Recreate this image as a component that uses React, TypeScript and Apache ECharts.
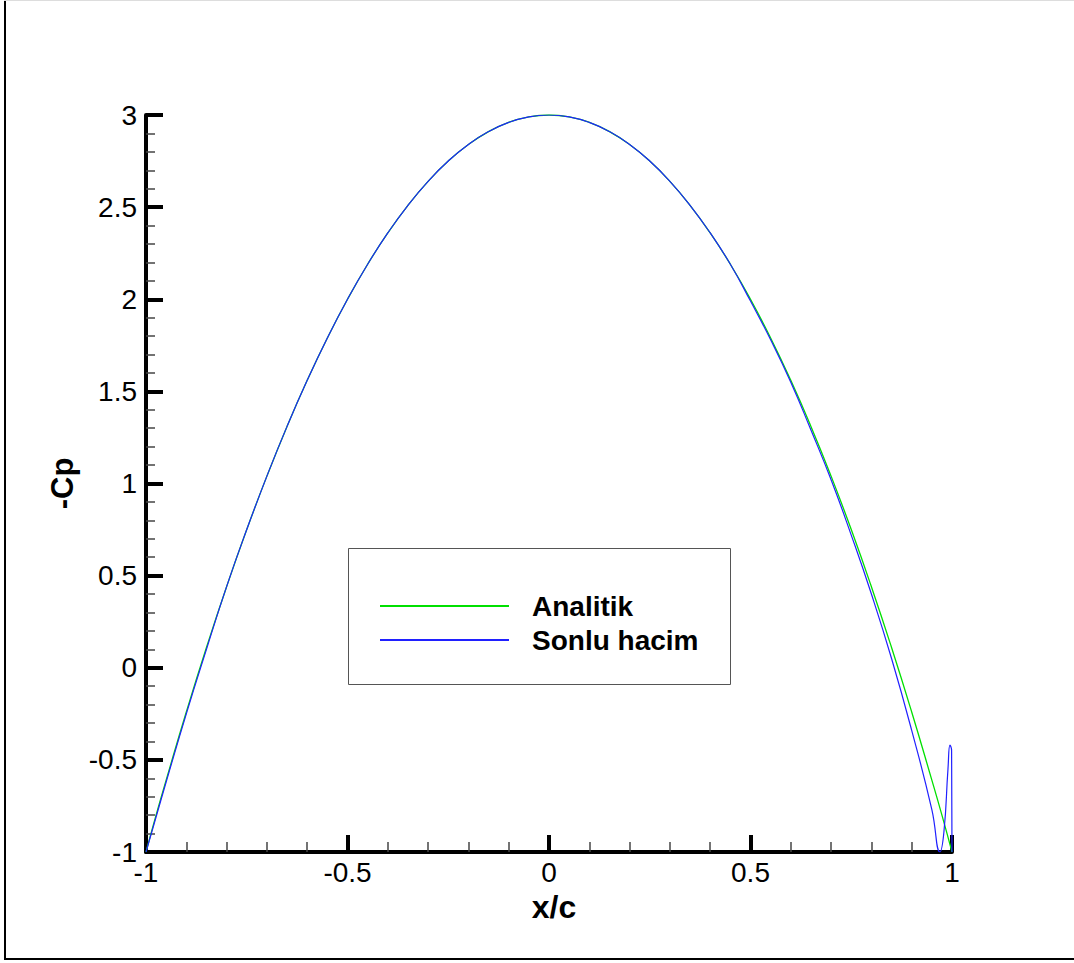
import React, { useEffect, useRef } from "react";
import * as echarts from "echarts";

const seriesNames = ["Analitik", "Sonlu hacim"];

const xAnalitik = [
  -1, -0.975, -0.95, -0.9, -0.85, -0.8, -0.75, -0.7, -0.65, -0.6, -0.55, -0.5, -0.45, -0.4, -0.35, -0.3,
  -0.25, -0.2, -0.15, -0.1, -0.05, 0, 0.05, 0.1, 0.15, 0.2, 0.25, 0.3, 0.35, 0.4, 0.45, 0.5, 0.55, 0.6,
  0.65, 0.7, 0.75, 0.8, 0.85, 0.9, 0.95, 0.975, 1,
];
const cpAnalitik = [
  -1, -0.8, -0.61, -0.24, 0.11, 0.44, 0.75, 1.04, 1.31, 1.56, 1.79, 2.0, 2.19, 2.36, 2.51, 2.64,
  2.75, 2.84, 2.91, 2.96, 2.99, 3.0, 2.99, 2.96, 2.91, 2.84, 2.75, 2.64, 2.51, 2.36, 2.19, 2.0, 1.79, 1.56,
  1.31, 1.04, 0.75, 0.44, 0.11, -0.24, -0.61, -0.8, -1,
];

const xSonlu = [
  -1, -0.975, -0.95, -0.9, -0.85, -0.8, -0.75, -0.7, -0.65, -0.6, -0.55, -0.5, -0.45, -0.4, -0.35, -0.3,
  -0.25, -0.2, -0.15, -0.1, -0.05, 0, 0.05, 0.1, 0.15, 0.2, 0.25, 0.3, 0.35, 0.4, 0.45, 0.5, 0.55, 0.6,
  0.65, 0.7, 0.75, 0.8, 0.85, 0.9, 0.95, 0.97, 0.98, 0.99, 0.995, 0.999, 1,
];
const cpSonlu = [
  -1, -0.81, -0.62, -0.25, 0.1, 0.44, 0.75, 1.04, 1.31, 1.56, 1.79, 2.0, 2.19, 2.36, 2.51, 2.64,
  2.75, 2.84, 2.91, 2.96, 2.99, 3.0, 2.99, 2.96, 2.91, 2.84, 2.75, 2.64, 2.51, 2.36, 2.19, 1.99, 1.78, 1.55,
  1.29, 1.02, 0.72, 0.4, 0.05, -0.34, -0.77, -1.0, -0.89, -0.55, -0.42, -0.45, -1.0,
];

const xAxisTitle = "x/c";
const yAxisTitle = "-Cp";

function pairs(xs: number[], ys: number[]) {
  return xs.map((x, i) => [x, ys[i]]);
}

export default function App() {
  const ref = useRef<HTMLDivElement>(null);
  useEffect(() => {
    if (!ref.current) return;
    const chart = echarts.init(ref.current, undefined, { renderer: "svg" });
    const labelFont = { fontFamily: "Liberation Sans, Arial, sans-serif", fontSize: 28, color: "#000" };
    chart.setOption({
      animation: false,
      backgroundColor: "#fff",
      grid: { left: 146, right: 122, top: 115, bottom: 111, containLabel: false },
      xAxis: {
        type: "value",
        min: -1,
        max: 1,
        interval: 0.5,
        name: xAxisTitle,
        nameLocation: "middle",
        nameGap: 38,
        nameTextStyle: { fontFamily: "Liberation Sans, Arial, sans-serif", fontSize: 32, fontWeight: "bold", color: "#000", padding: [0, 0, 0, 10] },
        axisLine: { show: true, onZero: false, lineStyle: { color: "#000", width: 4 } },
        axisTick: { show: true, inside: true, length: 17, lineStyle: { color: "#000", width: 4 } },
        minorTick: { show: true, splitNumber: 5, length: 10, lineStyle: { color: "#444", width: 1.5 } },
        axisLabel: { ...labelFont, margin: 6, formatter: (v: number) => String(v) },
        splitLine: { show: false },
      },
      yAxis: {
        type: "value",
        min: -1,
        max: 3,
        interval: 0.5,
        name: yAxisTitle,
        nameLocation: "middle",
        nameGap: 60,
        nameTextStyle: { fontFamily: "Liberation Sans, Arial, sans-serif", fontSize: 31, fontWeight: "bold", color: "#000" },
        axisLine: { show: true, onZero: false, lineStyle: { color: "#000", width: 4 } },
        axisTick: { show: true, inside: true, length: 17, lineStyle: { color: "#000", width: 4 } },
        minorTick: { show: true, splitNumber: 5, length: 9, lineStyle: { color: "#444", width: 1.5 } },
        axisLabel: { ...labelFont, margin: 9, formatter: (v: number) => String(v) },
        splitLine: { show: false },
      },
      legend: {
        orient: "vertical",
        left: 375,
        top: 587,
        icon: "rect",
        itemWidth: 129,
        itemHeight: 2,
        itemGap: 6,
        data: seriesNames,
        textStyle: {
          fontFamily: "Liberation Sans, Arial, sans-serif",
          fontSize: 28,
          fontWeight: "bold",
          color: "#000",
          padding: [0, 0, 0, 18],
        },
      },
      graphic: [
        { type: "line", shape: { x1: 5, y1: 0, x2: 5, y2: 960 }, style: { stroke: "#000", lineWidth: 2 } },
        { type: "line", shape: { x1: 4, y1: 959, x2: 1074, y2: 959 }, style: { stroke: "#000", lineWidth: 2 } },
        { type: "line", shape: { x1: 4, y1: 0.5, x2: 1074, y2: 0.5 }, style: { stroke: "#ddd", lineWidth: 1 } },
        {
          type: "rect",
          shape: { x: 348.5, y: 548.5, width: 382, height: 136 },
          style: { fill: "none", stroke: "#555", lineWidth: 1 },
          z: 0,
        },
      ],
      series: [
        {
          name: seriesNames[0],
          type: "line",
          data: pairs(xAnalitik, cpAnalitik),
          showSymbol: false,
          symbol: "none",
          smooth: 0.5,
          lineStyle: { color: "#00e000", width: 1.3 },
          itemStyle: { color: "#00e000" },
          z: 2,
        },
        {
          name: seriesNames[1],
          type: "line",
          data: pairs(xSonlu, cpSonlu),
          showSymbol: false,
          symbol: "none",
          smooth: 0.5,
          lineStyle: { color: "#2020ff", width: 1.2 },
          itemStyle: { color: "#2020ff" },
          z: 3,
        },
      ],
    });
    return () => chart.dispose();
  }, []);
  return (
    <div
      ref={ref}
      style={{ position: "absolute", left: 0, top: 0, width: 1074, height: 963, background: "#fff" }}
    />
  );
}
